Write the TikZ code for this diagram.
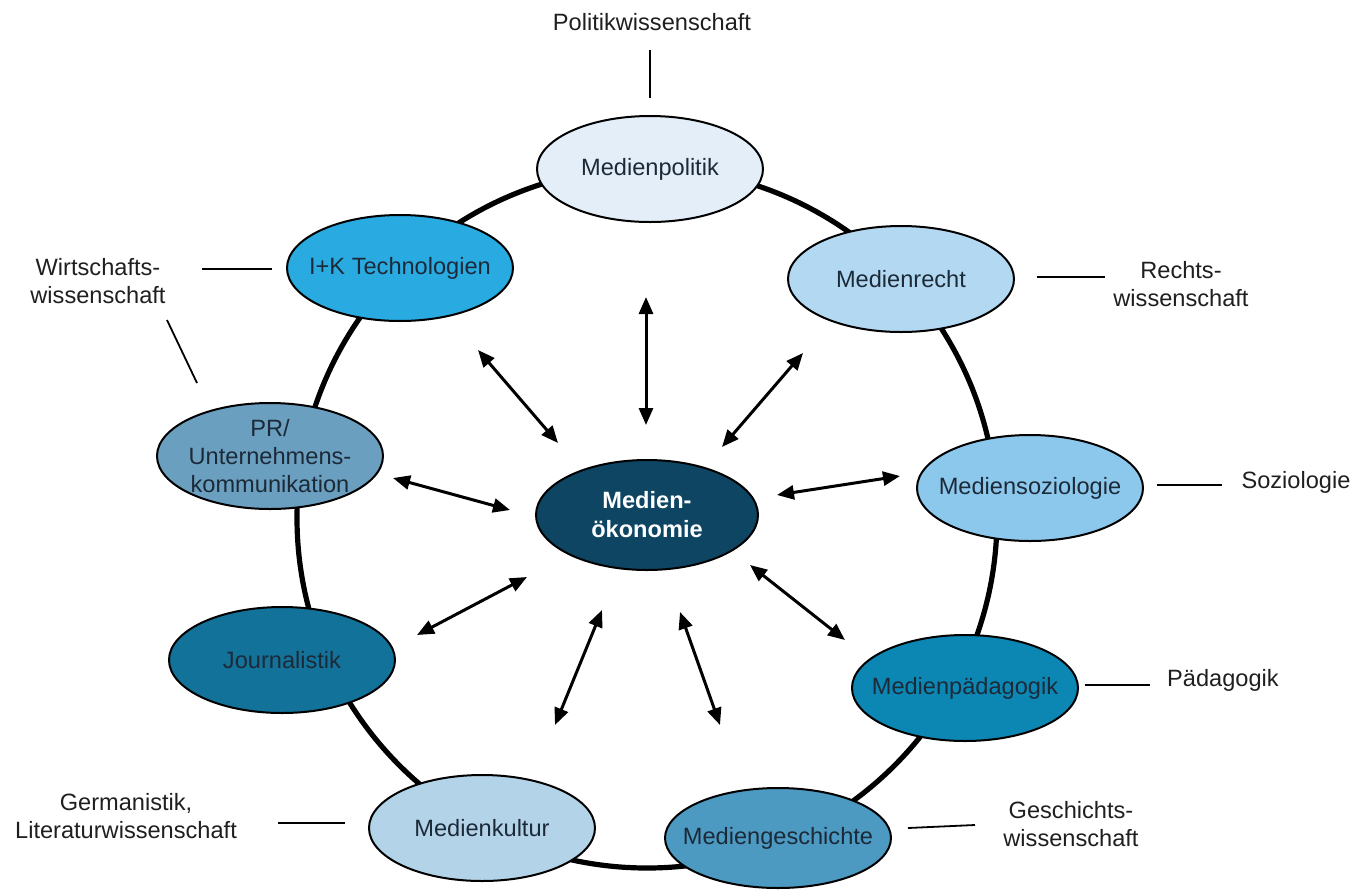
\documentclass[tikz,border=0pt]{standalone}
\usepackage{fontspec}
\setmainfont{Liberation Sans}
\usetikzlibrary{shapes.geometric,arrows.meta}
\definecolor{cPol}{HTML}{E3EEF9}
\definecolor{cIK}{HTML}{29ABE2}
\definecolor{cRecht}{HTML}{B3D9F2}
\definecolor{cPR}{HTML}{6A9FC0}
\definecolor{cSoz}{HTML}{8CC7EC}
\definecolor{cOek}{HTML}{0D4563}
\definecolor{cJour}{HTML}{13729A}
\definecolor{cPaed}{HTML}{0C87B4}
\definecolor{cKult}{HTML}{B3D3E8}
\definecolor{cGesch}{HTML}{4C99C2}
\definecolor{txtc}{HTML}{1C2A38}
\begin{document}
\begin{tikzpicture}[x=0.5pt,y=-0.5pt,
  ell/.style={ellipse,draw=black,line width=1pt,inner xsep=-18pt,inner ysep=-8pt,
    minimum width=113pt,minimum height=53pt,
    font=\fontsize{11.8}{14}\selectfont,text=txtc,align=center},
  ring/.style={line width=2.6pt},
  arr/.style={{Triangle[length=8.5pt,width=7pt]}-{Triangle[length=8.5pt,width=7pt]},line width=1.5pt},
  lab/.style={font=\fontsize{11.8}{14}\selectfont,align=center,text=black!88},
  tick/.style={line width=0.9pt}]
\useasboundingbox (0,0) rectangle (1367,890);
\draw[ring] (647,518) ellipse [x radius=350, y radius=350];

% ellipses
\node[ell,fill=cPol] (pol) at (650,169) {Medienpolitik};
\node[ell,fill=cIK] (ik) at (400,268) {I+K Technologien};
\node[ell,fill=cRecht] (recht) at (901,279) {Medienrecht};
\node[ell,fill=cPR] (pr) at (270,456) {PR/\\Unternehmens-\\kommunikation};
\node[ell,fill=cSoz] (soz) at (1030,488) {Mediensoziologie};
\node[ell,fill=cOek,text=white,font=\fontsize{11.8}{14.5}\selectfont\bfseries,minimum width=111pt,minimum height=55pt] (oek) at (647,515) {Medien-\\ökonomie};
\node[ell,fill=cJour] (jour) at (282,660) {Journalistik};
\node[ell,fill=cPaed] (paed) at (965,688) {Medienpädagogik};
\node[ell,fill=cKult] (kult) at (482,828) {Medienkultur};
\node[ell,fill=cGesch,minimum height=50pt] (gesch) at (778,838) {Mediengeschichte};

% arrow end points
\coordinate (a1s) at (646,297); \coordinate (a1e) at (646,425);
\coordinate (a2s) at (478,350); \coordinate (a2e) at (558,443);
\coordinate (a3s) at (803,353); \coordinate (a3e) at (722,447);
\coordinate (a4s) at (393,478); \coordinate (a4e) at (510,510);
\coordinate (a5s) at (777,495); \coordinate (a5e) at (900,476);
\coordinate (a6s) at (527,577); \coordinate (a6e) at (417,635);
\coordinate (a7s) at (750,565); \coordinate (a7e) at (845,640);
\coordinate (a8s) at (602,610); \coordinate (a8e) at (555,725);
\coordinate (a9s) at (680,612); \coordinate (a9e) at (720,725);
\foreach \i in {1,...,9} {\draw[arr] (a\i s) -- (a\i e);}

% outer labels
\node[lab] (tpol) at (652,22) {Politikwissenschaft};
\node[lab] (twirt) at (98,281) {Wirtschafts-\\wissenschaft};
\node[lab] (trecht) at (1181,284) {Rechts-\\wissenschaft};
\node[lab] (tsoz) at (1296,482) {Soziologie};
\node[lab] (tpaed) at (1223,680) {Pädagogik};
\node[lab] (tgerm) at (126,816) {Germanistik,\\Literaturwissenschaft};
\node[lab] (tgesch) at (1071,824) {Geschichts-\\wissenschaft};

% outer tick lines
\coordinate (l1a) at (650,50);  \coordinate (l1b) at (650,98);
\coordinate (l2a) at (202,269); \coordinate (l2b) at (272,269);
\coordinate (l3a) at (167,320); \coordinate (l3b) at (197,383);
\coordinate (l4a) at (1037,277); \coordinate (l4b) at (1105,277);
\coordinate (l5a) at (1157,485); \coordinate (l5b) at (1222,485);
\coordinate (l6a) at (1085,685); \coordinate (l6b) at (1150,685);
\coordinate (l7a) at (278,823); \coordinate (l7b) at (345,823);
\coordinate (l8a) at (908,828); \coordinate (l8b) at (975,825);
\foreach \i in {1,...,8} {\draw[tick] (l\i a) -- (l\i b);}
\end{tikzpicture}
\end{document}
